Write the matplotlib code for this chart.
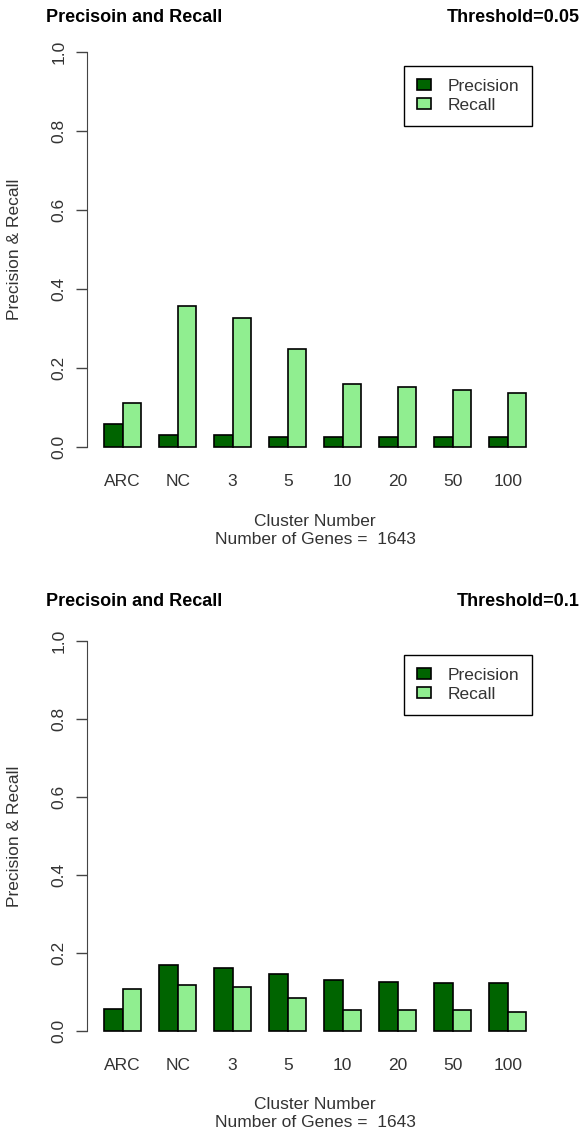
import matplotlib
matplotlib.use("Agg")
import matplotlib.pyplot as plt
import numpy as np

plt.rcParams['font.family'] = ['Liberation Sans', 'DejaVu Sans']

# ------------------------
# data
# ------------------------
clusters = ["ARC", "NC", "3", "5", "10", "20", "50", "100"]
series = ["Precision", "Recall"]
colors = ["#006400", "#90EE90"]

prec_005 = [0.058, 0.030, 0.030, 0.027, 0.027, 0.027, 0.027, 0.027]
rec_005 = [0.111, 0.358, 0.327, 0.248, 0.159, 0.152, 0.144, 0.137]

prec_01 = [0.056, 0.168, 0.162, 0.146, 0.131, 0.126, 0.123, 0.123]
rec_01 = [0.107, 0.119, 0.112, 0.085, 0.053, 0.053, 0.053, 0.048]

thresholds = ["Threshold=0.05", "Threshold=0.1"]
n_genes = 1643

W, H = 584, 1136
fig = plt.figure(figsize=(W / 100, H / 100), dpi=100)

# axes boxes in pixels: left, right, top, bottom ; title y
boxes = [(87.4, 543, 36.5, 463, 17), (87.4, 543, 625.4, 1046.6, 601)]
panels = [(prec_005, rec_005), (prec_01, rec_01)]

fs = 12.5
for (l, r, t, b, ty), (prec, rec), thr in zip(boxes, panels, thresholds):
    ax = fig.add_axes([l / W, 1 - b / H, (r - l) / W, (b - t) / H])
    n = len(clusters)
    base = 1 + 3 * np.arange(n)  # barplot(beside=TRUE), space=c(0,1)
    for k, vals in enumerate([prec, rec]):
        ax.bar(base + k, vals, width=1, align='edge', color=colors[k],
               edgecolor='black', linewidth=1.2, label=series[k])
    ax.set_xlim(0.08, 3 * n + 0.92)
    ax.set_ylim(-0.04, 1.04)
    for s in ['top', 'right', 'bottom']:
        ax.spines[s].set_visible(False)
    ax.spines['left'].set_bounds(0, 1)
    ax.spines['left'].set_color('#444444')
    ax.set_yticks([0, 0.2, 0.4, 0.6, 0.8, 1.0])
    ax.set_yticklabels(["0.0", "0.2", "0.4", "0.6", "0.8", "1.0"], rotation=90,
                       va='center', fontsize=fs, color='#333333')
    ax.tick_params(axis='y', length=8, width=1, color='#444444', pad=7)
    ax.set_xticks(base + 1)
    ax.set_xticklabels(clusters, fontsize=fs, color='#333333')
    ax.tick_params(axis='x', length=0, pad=8)

    ax.set_ylabel("Precision & Recall", fontsize=fs, color='#333333')
    ax.yaxis.label.set_va('center')
    ax.yaxis.set_label_coords((15 - l) / (r - l), 0.5)

    leg = ax.legend(loc='upper right', bbox_to_anchor=((532 - l) / (r - l), (b - (t + 29.5)) / (b - t)),
                    fontsize=fs, frameon=True, fancybox=False, edgecolor='black',
                    framealpha=1, borderpad=0.75, handlelength=0.8, handleheight=0.6,
                    labelspacing=0.22, handletextpad=0.95, borderaxespad=0)
    leg.get_frame().set_linewidth(1.0)
    for txt in leg.get_texts():
        txt.set_color('#333333')

    cx = (l + r) / 2 / W
    fig.text(cx, 1 - (b + 58) / H, "Cluster Number", ha='center', va='center',
             fontsize=fs, color='#333333')
    fig.text(cx, 1 - (b + 76) / H, f"Number of Genes =  {n_genes}", ha='center',
             va='center', fontsize=fs, color='#333333')

    fig.text(46 / W, 1 - ty / H, "Precisoin and Recall", ha='left', va='center',
             fontsize=13, fontweight='bold')
    fig.text(580 / W, 1 - ty / H, thr, ha='right', va='center',
             fontsize=13, fontweight='bold')

fig.savefig("out.png", dpi=100)
